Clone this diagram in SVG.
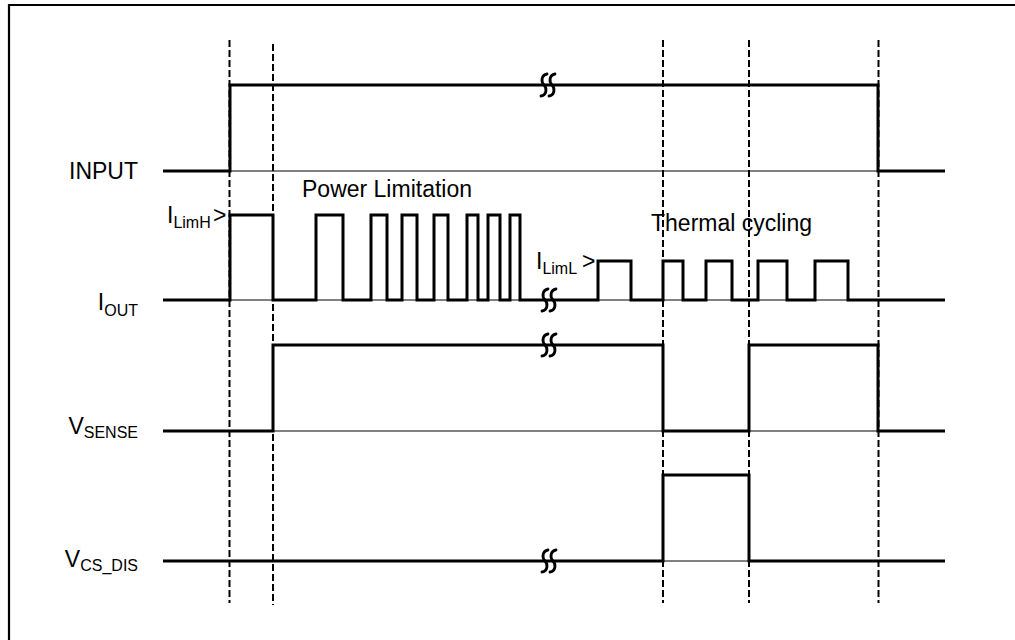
<svg xmlns="http://www.w3.org/2000/svg" width="1015" height="640" viewBox="0 0 1015 640">
<style>
.sig{fill:none;stroke:#000;stroke-width:3;stroke-linejoin:miter;stroke-linecap:butt}
.base{fill:none;stroke:#000;stroke-width:1}
.dash{fill:none;stroke:#000;stroke-width:2;stroke-dasharray:7,3}
.brk{fill:none;stroke:#000;stroke-width:2.8;stroke-linecap:round}
.lbl{font-family:"Liberation Sans",Arial,sans-serif;font-size:23px;fill:#000}
.sub{font-size:16px}
</style>
<defs>
<path id="brk" class="brk" d="M3,-11 C-3,-10 -3,-3 0,0 C3,3 3,10 -3,11"/>
</defs>
<rect width="1015" height="640" fill="#fff"/>
<g id="frame">
<path d="M9,640 V5 H1015" fill="none" stroke="#000" stroke-width="2.2"/>
</g>
<g id="connectors">
<line class="dash" x1="229.5" y1="40" x2="229.5" y2="603"/>
<line class="dash" x1="273" y1="44" x2="273" y2="605"/>
<line class="dash" x1="663" y1="40" x2="663" y2="603"/>
<line class="dash" x1="749" y1="40" x2="749" y2="603"/>
<line class="dash" x1="878.5" y1="40" x2="878.5" y2="603"/>
</g>
<g id="input">
<line class="base" x1="230" y1="171" x2="878" y2="171"/>
<path class="sig" d="M163,171 H230 V85 H878 V171 H945"/>
<use href="#brk" x="544" y="85"/>
<use href="#brk" x="552" y="85"/>
<text class="lbl" x="138" y="179" text-anchor="end">INPUT</text>
</g>
<g id="iout">
<line class="base" x1="230" y1="300" x2="945" y2="300"/>
<path class="sig" d="M163,300 H230 V215 H273 V300 H316 V215 H343 V300 H371 V215 H387 V300 H402 V215 H417 V300 H434 V215 H448 V300 H467 V215 H478 V300 H488 V215 H500 V300 H510 V215 H520 V300 H598 V261 H631 V300 H663 V261 H683 V300 H706 V261 H732 V300 H758 V261 H787 V300 H815 V261 H848 V300 H945"/>
<use href="#brk" x="545" y="300"/>
<use href="#brk" x="553" y="300"/>
<text class="lbl" x="138" y="310" text-anchor="end">I<tspan class="sub" dy="6">OUT</tspan></text>
<text class="lbl" x="167" y="223">I<tspan class="sub" dy="5">LimH</tspan></text>
<text class="lbl" x="213" y="223">&gt;</text>
<text class="lbl" x="302" y="197">Power Limitation</text>
<text class="lbl" x="536" y="269">I<tspan class="sub" dy="5">LimL</tspan></text>
<text class="lbl" x="582" y="269">&gt;</text>
<text class="lbl" x="651" y="231">Thermal cycling</text>
</g>
<g id="vsense">
<line class="base" x1="273" y1="431" x2="878" y2="431"/>
<path class="sig" d="M163,431 H273 V345 H663 V431 H749 V345 H878 V431 H945"/>
<use href="#brk" x="545" y="345"/>
<use href="#brk" x="553" y="345"/>
<text class="lbl" x="138" y="434" text-anchor="end">V<tspan class="sub" dy="4">SENSE</tspan></text>
</g>
<g id="vcsdis">
<line class="base" x1="663" y1="561" x2="749" y2="561"/>
<path class="sig" d="M163,561 H663 V475 H749 V561 H945"/>
<use href="#brk" x="545" y="561"/>
<use href="#brk" x="553" y="561"/>
<text class="lbl" x="138" y="567" text-anchor="end">V<tspan class="sub" dy="4">CS_DIS</tspan></text>
</g>
</svg>
